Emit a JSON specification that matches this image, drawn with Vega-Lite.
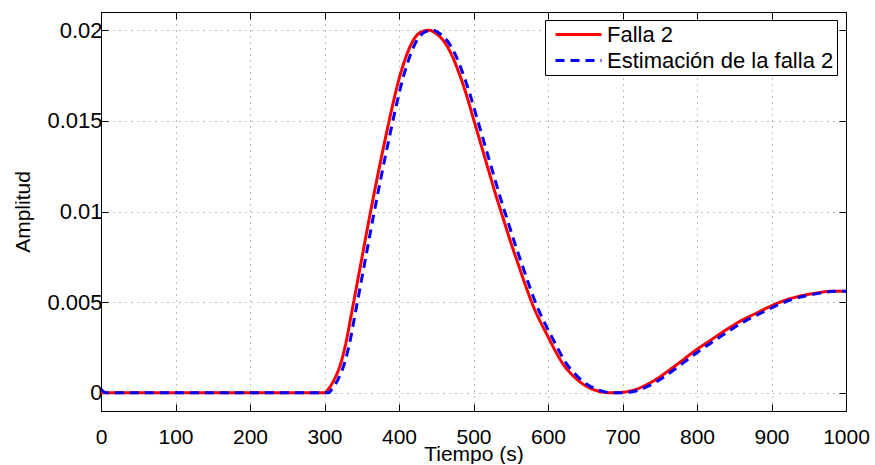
{
  "$schema": "https://vega.github.io/schema/vega-lite/v6.json",
  "width": 745,
  "height": 399,
  "padding": {"left": 12, "top": 11, "right": 5, "bottom": 0},
  "background": "white",
  "config": {
    "font": "Liberation Sans",
    "view": {"stroke": "black", "strokeWidth": 1},
    "axis": {
      "domainColor": "black",
      "tickColor": "black",
      "labelColor": "black",
      "titleColor": "black",
      "labelFont": "Liberation Sans",
      "titleFont": "Liberation Sans",
      "labelFontSize": 22,
      "titleFontSize": 21,
      "titleFontWeight": "normal",
      "gridColor": "#000000",
      "gridOpacity": 0.5,
      "gridDash": [1, 5],
      "gridWidth": 1
    },
    "legend": {
      "title": null,
      "orient": "none",
      "legendX": 444,
      "legendY": 8,
      "strokeColor": "black",
      "fillColor": "white",
      "padding": 3,
      "cornerRadius": 0,
      "symbolType": "M-0.4,0H4.2",
      "symbolSize": 400,
      "symbolStrokeWidth": 3,
      "labelFont": "Liberation Sans",
      "labelFontSize": 22,
      "labelColor": "black",
      "labelLimit": 400,
      "labelOffset": 36,
      "rowPadding": 3
    }
  },
  "data": {
    "values": [
      {"t": 0, "v": 0, "serie": "Falla 2"},
      {"t": 100, "v": 0, "serie": "Falla 2"},
      {"t": 200, "v": 0, "serie": "Falla 2"},
      {"t": 295, "v": 0, "serie": "Falla 2"},
      {"t": 300, "v": 0, "serie": "Falla 2"},
      {"t": 305, "v": 0.0002, "serie": "Falla 2"},
      {"t": 310, "v": 0.0005, "serie": "Falla 2"},
      {"t": 315, "v": 0.0009, "serie": "Falla 2"},
      {"t": 320, "v": 0.0014, "serie": "Falla 2"},
      {"t": 325, "v": 0.0021, "serie": "Falla 2"},
      {"t": 330, "v": 0.0030, "serie": "Falla 2"},
      {"t": 335, "v": 0.0041, "serie": "Falla 2"},
      {"t": 340, "v": 0.0052, "serie": "Falla 2"},
      {"t": 350, "v": 0.0074, "serie": "Falla 2"},
      {"t": 360, "v": 0.0096, "serie": "Falla 2"},
      {"t": 370, "v": 0.0117, "serie": "Falla 2"},
      {"t": 380, "v": 0.0137, "serie": "Falla 2"},
      {"t": 390, "v": 0.0156, "serie": "Falla 2"},
      {"t": 400, "v": 0.0173, "serie": "Falla 2"},
      {"t": 410, "v": 0.0186, "serie": "Falla 2"},
      {"t": 420, "v": 0.0195, "serie": "Falla 2"},
      {"t": 430, "v": 0.0199, "serie": "Falla 2"},
      {"t": 440, "v": 0.0200, "serie": "Falla 2"},
      {"t": 450, "v": 0.0198, "serie": "Falla 2"},
      {"t": 460, "v": 0.0194, "serie": "Falla 2"},
      {"t": 470, "v": 0.0187, "serie": "Falla 2"},
      {"t": 480, "v": 0.0177, "serie": "Falla 2"},
      {"t": 490, "v": 0.0165, "serie": "Falla 2"},
      {"t": 500, "v": 0.0151, "serie": "Falla 2"},
      {"t": 510, "v": 0.0137, "serie": "Falla 2"},
      {"t": 520, "v": 0.0123, "serie": "Falla 2"},
      {"t": 530, "v": 0.0109, "serie": "Falla 2"},
      {"t": 540, "v": 0.0096, "serie": "Falla 2"},
      {"t": 550, "v": 0.0083, "serie": "Falla 2"},
      {"t": 560, "v": 0.0071, "serie": "Falla 2"},
      {"t": 570, "v": 0.0059, "serie": "Falla 2"},
      {"t": 580, "v": 0.0048, "serie": "Falla 2"},
      {"t": 590, "v": 0.0039, "serie": "Falla 2"},
      {"t": 600, "v": 0.0031, "serie": "Falla 2"},
      {"t": 610, "v": 0.0023, "serie": "Falla 2"},
      {"t": 620, "v": 0.0016, "serie": "Falla 2"},
      {"t": 630, "v": 0.0011, "serie": "Falla 2"},
      {"t": 640, "v": 0.0007, "serie": "Falla 2"},
      {"t": 650, "v": 0.0004, "serie": "Falla 2"},
      {"t": 660, "v": 0.0002, "serie": "Falla 2"},
      {"t": 670, "v": 0.00007, "serie": "Falla 2"},
      {"t": 680, "v": 0.00001, "serie": "Falla 2"},
      {"t": 690, "v": 0, "serie": "Falla 2"},
      {"t": 700, "v": 0.00003, "serie": "Falla 2"},
      {"t": 710, "v": 0.0001, "serie": "Falla 2"},
      {"t": 720, "v": 0.00022, "serie": "Falla 2"},
      {"t": 730, "v": 0.0004, "serie": "Falla 2"},
      {"t": 740, "v": 0.00062, "serie": "Falla 2"},
      {"t": 750, "v": 0.00088, "serie": "Falla 2"},
      {"t": 760, "v": 0.00117, "serie": "Falla 2"},
      {"t": 770, "v": 0.00147, "serie": "Falla 2"},
      {"t": 780, "v": 0.00178, "serie": "Falla 2"},
      {"t": 790, "v": 0.0021, "serie": "Falla 2"},
      {"t": 800, "v": 0.0024, "serie": "Falla 2"},
      {"t": 820, "v": 0.00295, "serie": "Falla 2"},
      {"t": 840, "v": 0.0035, "serie": "Falla 2"},
      {"t": 860, "v": 0.0040, "serie": "Falla 2"},
      {"t": 880, "v": 0.0044, "serie": "Falla 2"},
      {"t": 900, "v": 0.0048, "serie": "Falla 2"},
      {"t": 920, "v": 0.00513, "serie": "Falla 2"},
      {"t": 940, "v": 0.00535, "serie": "Falla 2"},
      {"t": 960, "v": 0.0055, "serie": "Falla 2"},
      {"t": 980, "v": 0.0056, "serie": "Falla 2"},
      {"t": 1000, "v": 0.0056, "serie": "Falla 2"},
      {"t": 0, "v": 0.0002, "serie": "Estimación de la falla 2"},
      {"t": 4, "v": 0.00005, "serie": "Estimación de la falla 2"},
      {"t": 8, "v": 0, "serie": "Estimación de la falla 2"},
      {"t": 100, "v": 0, "serie": "Estimación de la falla 2"},
      {"t": 200, "v": 0, "serie": "Estimación de la falla 2"},
      {"t": 300, "v": 0, "serie": "Estimación de la falla 2"},
      {"t": 305, "v": 0, "serie": "Estimación de la falla 2"},
      {"t": 310, "v": 0.0002, "serie": "Estimación de la falla 2"},
      {"t": 315, "v": 0.0005, "serie": "Estimación de la falla 2"},
      {"t": 320, "v": 0.0009, "serie": "Estimación de la falla 2"},
      {"t": 325, "v": 0.0014, "serie": "Estimación de la falla 2"},
      {"t": 330, "v": 0.0021, "serie": "Estimación de la falla 2"},
      {"t": 335, "v": 0.0030, "serie": "Estimación de la falla 2"},
      {"t": 340, "v": 0.0041, "serie": "Estimación de la falla 2"},
      {"t": 345, "v": 0.0052, "serie": "Estimación de la falla 2"},
      {"t": 355, "v": 0.0074, "serie": "Estimación de la falla 2"},
      {"t": 365, "v": 0.0096, "serie": "Estimación de la falla 2"},
      {"t": 375, "v": 0.0117, "serie": "Estimación de la falla 2"},
      {"t": 385, "v": 0.0137, "serie": "Estimación de la falla 2"},
      {"t": 395, "v": 0.0156, "serie": "Estimación de la falla 2"},
      {"t": 405, "v": 0.0173, "serie": "Estimación de la falla 2"},
      {"t": 415, "v": 0.0186, "serie": "Estimación de la falla 2"},
      {"t": 425, "v": 0.0195, "serie": "Estimación de la falla 2"},
      {"t": 435, "v": 0.0199, "serie": "Estimación de la falla 2"},
      {"t": 445, "v": 0.0200, "serie": "Estimación de la falla 2"},
      {"t": 455, "v": 0.0198, "serie": "Estimación de la falla 2"},
      {"t": 465, "v": 0.0194, "serie": "Estimación de la falla 2"},
      {"t": 475, "v": 0.0187, "serie": "Estimación de la falla 2"},
      {"t": 485, "v": 0.0177, "serie": "Estimación de la falla 2"},
      {"t": 495, "v": 0.0165, "serie": "Estimación de la falla 2"},
      {"t": 505, "v": 0.0151, "serie": "Estimación de la falla 2"},
      {"t": 515, "v": 0.0137, "serie": "Estimación de la falla 2"},
      {"t": 525, "v": 0.0123, "serie": "Estimación de la falla 2"},
      {"t": 535, "v": 0.0109, "serie": "Estimación de la falla 2"},
      {"t": 545, "v": 0.0096, "serie": "Estimación de la falla 2"},
      {"t": 555, "v": 0.0083, "serie": "Estimación de la falla 2"},
      {"t": 565, "v": 0.0071, "serie": "Estimación de la falla 2"},
      {"t": 575, "v": 0.0059, "serie": "Estimación de la falla 2"},
      {"t": 585, "v": 0.0048, "serie": "Estimación de la falla 2"},
      {"t": 595, "v": 0.0039, "serie": "Estimación de la falla 2"},
      {"t": 605, "v": 0.0031, "serie": "Estimación de la falla 2"},
      {"t": 615, "v": 0.0023, "serie": "Estimación de la falla 2"},
      {"t": 625, "v": 0.0016, "serie": "Estimación de la falla 2"},
      {"t": 635, "v": 0.0011, "serie": "Estimación de la falla 2"},
      {"t": 645, "v": 0.0007, "serie": "Estimación de la falla 2"},
      {"t": 655, "v": 0.0004, "serie": "Estimación de la falla 2"},
      {"t": 665, "v": 0.0002, "serie": "Estimación de la falla 2"},
      {"t": 675, "v": 0.00007, "serie": "Estimación de la falla 2"},
      {"t": 685, "v": 0.00001, "serie": "Estimación de la falla 2"},
      {"t": 695, "v": 0, "serie": "Estimación de la falla 2"},
      {"t": 705, "v": 0.00002, "serie": "Estimación de la falla 2"},
      {"t": 715, "v": 0.00008, "serie": "Estimación de la falla 2"},
      {"t": 725, "v": 0.0002, "serie": "Estimación de la falla 2"},
      {"t": 735, "v": 0.00038, "serie": "Estimación de la falla 2"},
      {"t": 745, "v": 0.0006, "serie": "Estimación de la falla 2"},
      {"t": 755, "v": 0.00086, "serie": "Estimación de la falla 2"},
      {"t": 765, "v": 0.00115, "serie": "Estimación de la falla 2"},
      {"t": 775, "v": 0.00145, "serie": "Estimación de la falla 2"},
      {"t": 785, "v": 0.00176, "serie": "Estimación de la falla 2"},
      {"t": 795, "v": 0.00207, "serie": "Estimación de la falla 2"},
      {"t": 805, "v": 0.00237, "serie": "Estimación de la falla 2"},
      {"t": 825, "v": 0.00292, "serie": "Estimación de la falla 2"},
      {"t": 845, "v": 0.00347, "serie": "Estimación de la falla 2"},
      {"t": 865, "v": 0.00397, "serie": "Estimación de la falla 2"},
      {"t": 885, "v": 0.00438, "serie": "Estimación de la falla 2"},
      {"t": 905, "v": 0.00478, "serie": "Estimación de la falla 2"},
      {"t": 925, "v": 0.00512, "serie": "Estimación de la falla 2"},
      {"t": 945, "v": 0.00534, "serie": "Estimación de la falla 2"},
      {"t": 965, "v": 0.0055, "serie": "Estimación de la falla 2"},
      {"t": 985, "v": 0.0056, "serie": "Estimación de la falla 2"},
      {"t": 1000, "v": 0.0056, "serie": "Estimación de la falla 2"}
    ]
  },
  "layer": [
    {
      "transform": [{"filter": "datum.serie == 'Falla 2'"}],
      "mark": {"type": "line", "strokeWidth": 3, "clip": true, "interpolate": "monotone"},
      "encoding": {
        "x": {
          "field": "t", "type": "quantitative",
          "scale": {"domain": [0, 1000], "nice": false, "zero": false},
          "axis": {
            "orient": "bottom", "title": "Tiempo (s)", "values": [0,100,200,300,400,500,600,700,800,900,1000],
            "format": "d", "grid": true, "tickSize": -7, "labelPadding": 22, "labelFontSize": 21,
            "titlePadding": -4, "labelFlush": false
          }
        },
        "y": {
          "field": "v", "type": "quantitative",
          "scale": {"domain": [-0.001, 0.021], "nice": false, "zero": false},
          "axis": {
            "orient": "left", "title": "Amplitud", "values": [0, 0.005, 0.01, 0.015, 0.02], "format": "~g",
            "grid": true, "tickSize": -7, "labelPadding": 6, "titlePadding": 13
          }
        },
        "color": {
          "field": "serie", "type": "nominal",
          "scale": {"domain": ["Falla 2", "Estimación de la falla 2"], "range": ["#ff0000", "#0000ff"]},
          "legend": {"title": null}
        },
        "strokeDash": {
          "field": "serie", "type": "nominal",
          "scale": {"domain": ["Falla 2", "Estimación de la falla 2"], "range": [[1, 0], [9, 6]]},
          "legend": {"title": null}
        }
      }
    },
    {
      "transform": [{"filter": "datum.serie != 'Falla 2'"}],
      "mark": {"type": "line", "strokeWidth": 3, "clip": true, "interpolate": "monotone"},
      "encoding": {
        "x": {
          "field": "t", "type": "quantitative",
          "axis": {
            "orient": "top", "title": null, "labels": false, "grid": false, "domain": false,
            "values": [0,100,200,300,400,500,600,700,800,900,1000], "tickSize": -7
          }
        },
        "y": {
          "field": "v", "type": "quantitative",
          "axis": {
            "orient": "right", "title": null, "labels": false, "grid": false, "domain": false,
            "values": [0, 0.005, 0.01, 0.015, 0.02], "tickSize": -7
          }
        },
        "color": {"field": "serie", "type": "nominal"},
        "strokeDash": {"field": "serie", "type": "nominal"}
      }
    }
  ],
  "resolve": {"axis": {"x": "independent", "y": "independent"}}
}
